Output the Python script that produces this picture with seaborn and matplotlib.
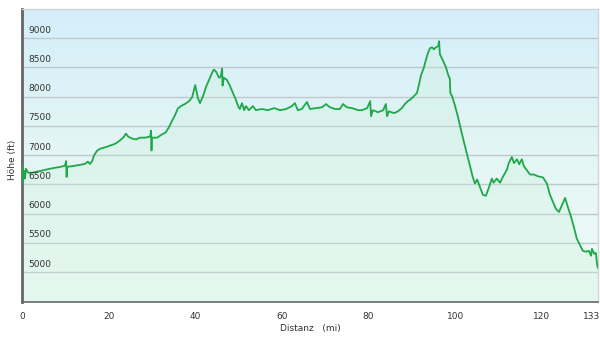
import numpy as np
import matplotlib
matplotlib.use("Agg")
import matplotlib.pyplot as plt
import matplotlib.transforms as mtransforms
from matplotlib.colors import LinearSegmentedColormap
import seaborn as sns

# Höhenprofil: Distanz (mi) und Höhe (ft)
distanz = [0.0, 0.1, 0.2, 0.5, 0.7, 0.9, 1.4, 2.3, 4.2, 6.5, 8.8, 9.9, 10.2, 10.3, 10.4,
           12.2, 14.5, 15.2, 15.7, 16.2, 16.6, 17.3, 18.0, 19.6, 21.5, 22.6, 23.6, 24.0,
           24.5, 25.4, 26.3, 27.2, 28.4, 29.6, 29.8, 29.9, 30.0, 31.2, 32.3, 33.2, 33.9,
           34.6, 35.3, 36.0, 36.7, 37.6, 38.6, 39.3, 40.0, 40.6, 41.1, 41.8, 42.5, 43.2,
           43.9, 44.3, 44.8, 45.5, 45.9, 46.2, 46.3, 46.6, 47.3, 48.0, 48.7, 49.4, 49.9,
           50.3, 50.8, 51.3, 51.7, 52.4, 53.3, 54.0, 55.4, 56.8, 58.2, 59.6, 61.0, 62.3,
           63.0, 63.7, 64.6, 65.8, 66.5, 67.9, 69.3, 70.2, 71.1, 72.3, 73.4, 74.1, 75.0,
           76.2, 77.6, 78.5, 79.7, 80.4, 80.6, 81.0, 82.2, 83.4, 84.0, 84.3, 84.7, 85.9,
           86.8, 87.7, 88.4, 89.1, 89.8, 90.5, 91.2, 91.7, 92.1, 92.8, 93.3, 93.7, 94.2,
           94.7, 95.1, 95.6, 96.1, 96.3, 96.5, 97.2, 97.9, 98.4, 98.8, 98.9, 99.3, 100.0,
           100.7, 101.4, 102.1, 102.8, 103.4, 104.1, 104.6, 105.1, 105.7, 106.4, 107.1,
           107.8, 108.5, 108.9, 109.6, 110.4, 111.1, 111.5, 112.0, 112.4, 113.1, 113.6,
           114.3, 114.8, 115.4, 115.9, 116.6, 117.3, 118.2, 119.1, 120.3, 121.2, 121.9,
           122.6, 123.3, 124.0, 124.7, 125.4, 126.1, 126.8, 127.5, 128.1, 128.8, 129.5,
           130.2, 130.9, 131.4, 131.6, 132.1, 132.5, 132.8, 133.0]
hoehe = [6560, 6820, 6530, 6730, 6600, 6770, 6700, 6700, 6730, 6770, 6800, 6820, 6900, 6630, 6800,
         6820, 6850, 6890, 6850, 6900, 6990, 7075, 7110, 7145, 7195, 7250, 7320, 7370,
         7320, 7285, 7270, 7300, 7300, 7320, 7420, 7080, 7300, 7300, 7355, 7390, 7475,
         7580, 7680, 7800, 7840, 7875, 7925, 7995, 8200, 7980, 7890, 8010, 8170, 8290,
         8410, 8465, 8430, 8325, 8345, 8480, 8190, 8325, 8290, 8190, 8065, 7945, 7840,
         7790, 7890, 7770, 7840, 7770, 7840, 7770, 7790, 7770, 7805, 7770, 7790, 7840,
         7890, 7770, 7790, 7910, 7790, 7805, 7820, 7875, 7820, 7790, 7790, 7875, 7820,
         7805, 7770, 7770, 7805, 7925, 7665, 7770, 7735, 7770, 7875, 7665, 7750, 7720,
         7750, 7805, 7875, 7925, 7960, 8010, 8065, 8220, 8360, 8500, 8640, 8740, 8830,
         8845, 8810, 8845, 8865, 8950, 8725, 8620, 8500, 8375, 8305, 8065, 8010, 7840,
         7645, 7420, 7210, 7000, 6830, 6620, 6515, 6585, 6465, 6325, 6305,
         6445, 6600, 6530, 6600, 6530, 6640, 6690, 6760, 6865, 6970, 6865,
         6930, 6845, 6930, 6810, 6740, 6670, 6670, 6640, 6620, 6515, 6325,
         6200, 6080, 6030, 6150, 6270, 6100, 5940, 5750, 5575, 5470, 5365,
         5350, 5365, 5280, 5400, 5315, 5330, 5125, 5070]

y_ticks = [5000, 5500, 6000, 6500, 7000, 7500, 8000, 8500, 9000]
x_ticks = [0, 20, 40, 60, 80, 100, 120, 133]

sns.set_style("white")
plt.rcParams['font.family'] = ['DejaVu Sans']

fig = plt.figure(figsize=(6.0, 3.39), dpi=100)
ax = fig.add_axes([22 / 600, 37 / 339, 576 / 600, 293 / 339])

y_min, y_max = 4490, 9500
x_min, x_max = 0, 133

# Hintergrund-Verlauf (hellblau oben, mint unten)
bg = LinearSegmentedColormap.from_list("bg", ["#effbf6", "#e4f6f4", "#d4eefa"])
ax.imshow(np.linspace(0, 1, 256).reshape(-1, 1), cmap=bg, aspect="auto",
          extent=[x_min, x_max, y_min, y_max], origin="lower", zorder=0)

for t in y_ticks:
    ax.axhline(t, color="#bfc8cc", lw=1.0, zorder=1)

ax.fill_between(distanz, hoehe, y_min, color="#c9f0da", alpha=0.25, lw=0, zorder=2)
sns.lineplot(x=distanz, y=hoehe, ax=ax, color="#1fa84a", lw=1.3,
             estimator=None, sort=False, zorder=3)

ax.set_xlim(x_min, x_max)
ax.set_ylim(y_min, y_max)

# Y-Beschriftungen innerhalb der Fläche, über der Gitterlinie
ax.set_yticks([])
trans = mtransforms.blended_transform_factory(ax.transAxes, ax.transData)
for t in y_ticks:
    ax.text(0.011, t + 60, str(t), transform=trans, ha="left", va="bottom",
            fontsize=6.5, color="#333333", zorder=4)

ax.set_xticks(x_ticks)
ax.set_xticklabels([str(v) for v in x_ticks], fontsize=6.5, color="#333333")
ax.tick_params(axis="x", direction="out", length=4, width=1, color="#666666", pad=3)
last = ax.get_xticklabels()[-1]
last.set_horizontalalignment("right")
last.set_transform(last.get_transform() + mtransforms.ScaledTranslation(2 / 100, 0, fig.dpi_scale_trans))

for side in ["top", "right"]:
    ax.spines[side].set_color("#d0d4d6")
    ax.spines[side].set_linewidth(1)
ax.spines["left"].set_color("#666666")
ax.spines["left"].set_linewidth(2)
ax.spines["bottom"].set_color("#666666")
ax.spines["bottom"].set_linewidth(1.2)

ax.set_xlabel("Distanz   (mi)", fontsize=6.5, color="#333333", labelpad=2)
fig.text(12 / 600, 1 - 160 / 339, "Höhe (ft)", rotation=90, ha="center", va="center",
         fontsize=6.5, color="#333333")

fig.savefig("out.png", dpi=100, facecolor="white")
